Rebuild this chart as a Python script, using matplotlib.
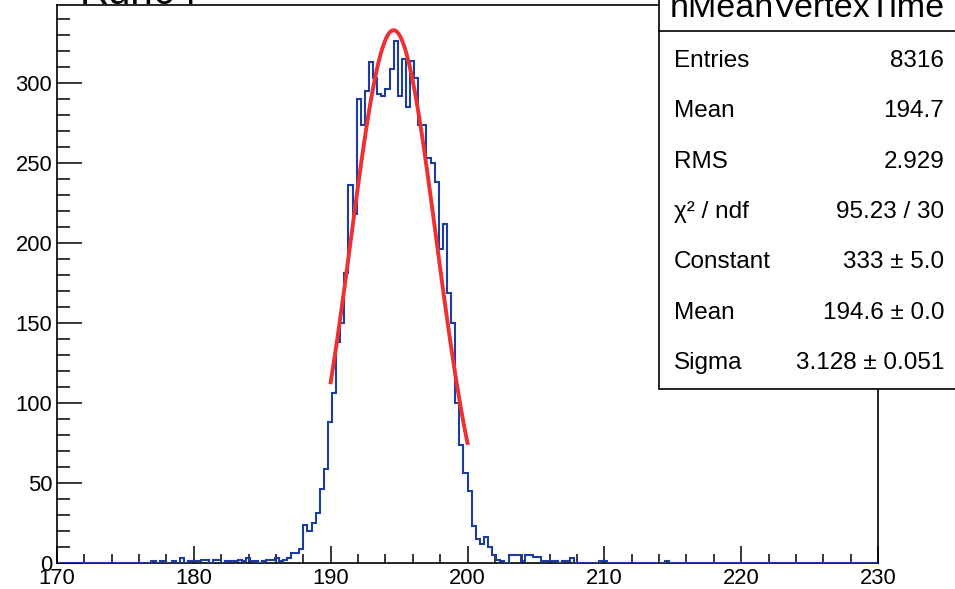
import numpy as np
import matplotlib.pyplot as plt
from matplotlib.patches import Rectangle
from matplotlib.lines import Line2D

plt.rcParams['font.family'] = ['Liberation Sans', 'DejaVu Sans']

# histogram binning: 200 bins over 170-230, filled bins start at bin 23
x_lo, x_hi, n_bins = 170.0, 230.0, 200
first_bin = 23
counts = [1, 0, 1, 0, 0, 1, 0, 3, 0, 1,           # bins 23-32
          1, 1, 2, 2, 0, 2, 2, 0, 1, 1,           # 33-42
          1, 2, 1, 3, 1, 1, 0, 1, 2, 2,           # 43-52
          3, 1, 2, 3, 6, 6, 9, 24, 20, 25,        # 53-62
          31, 46, 59, 88, 106, 138, 150, 181, 236, 218,   # 63-72
          290, 274, 295, 313, 303, 293, 292, 296, 309, 326,  # 73-82
          292, 315, 285, 314, 303, 274, 274, 253, 250, 238,  # 83-92
          196, 212, 169, 150, 100, 74, 56, 45, 23, 15,     # 93-102
          12, 16, 10, 5, 2, 1, 0, 5, 5, 5,        # 103-112
          1, 5, 5, 4, 4, 1, 1, 1, 1, 0,           # 113-122
          1, 1, 3, 0, 0, 0, 0, 0, 0, 1,           # 123-132
          1, 0, 0, 0, 0, 0, 0, 0, 0, 0,           # 133-142
          0, 0, 0, 0, 0, 1]                       # 143-148

# gaussian fit result (from the stats box)
fit_const, fit_mean, fit_sigma = 333.0, 194.6, 3.128
fit_lo, fit_hi = 190.0, 200.0

stats_title = 'hMeanVertexTime'
stats_labels = ['Entries', 'Mean', 'RMS', 'χ² / ndf', 'Constant', 'Mean', 'Sigma']
stats_values = ['8316', '194.7', '2.929', '95.23 / 30', '333 ± 5.0', '194.6 ± 0.0', '3.128 ± 0.051']
plot_title = 'Run64'

W, H = 955, 589
fig = plt.figure(figsize=(W / 100, H / 100), dpi=100)
ax = fig.add_axes([57 / W, 1 - 563 / H, (878 - 57) / W, (563 - 5) / H])

edges = np.linspace(x_lo, x_hi, n_bins + 1)
full = np.zeros(n_bins)
full[first_bin:first_bin + len(counts)] = counts
ax.stairs(full, edges, color='#1d3c9f', lw=1.5, zorder=3)

xf = np.linspace(fit_lo, fit_hi, 100)
yf = fit_const * np.exp(-0.5 * ((xf - fit_mean) / fit_sigma) ** 2)
ax.plot(xf, yf, color='#ee3030', lw=2.8, zorder=4)

ax.set_xlim(x_lo, x_hi)
ax.set_ylim(0, 348.75)
ax.set_xticks(np.arange(170, 231, 10))
ax.set_xticks(np.arange(170, 231, 2), minor=True)
ax.set_yticks(np.arange(0, 301, 50))
ax.set_yticks(np.arange(0, 341, 10), minor=True)
ax.tick_params(which='both', direction='in', top=False, right=False, width=1.1, labelsize=15.8)
ax.tick_params(axis='x', which='major', length=12, pad=3.5)
ax.tick_params(axis='x', which='minor', length=6.5)
ax.tick_params(axis='y', which='major', length=18, pad=3.5)
ax.tick_params(axis='y', which='minor', length=9.5)
for s in ax.spines.values():
    s.set_linewidth(1.2)

# title, partly cut off at the top like the original canvas
fig.text(80 / W, 1 - 4 / H, plot_title, fontsize=29, va='baseline', ha='left')

# stats box
fig.add_artist(Rectangle((659 / W, 1 - 389 / H), (W + 20 - 659) / W, (389 + 20) / H,
                         transform=fig.transFigure, facecolor='white',
                         edgecolor='black', lw=1.2, zorder=10))
fig.add_artist(Line2D([659 / W, 1], [1 - 31 / H, 1 - 31 / H], transform=fig.transFigure,
                      color='black', lw=1.2, zorder=11))
fig.text(807 / W, 1 - 17 / H, stats_title, fontsize=24.5, ha='center', va='baseline', zorder=12)
row_base = [67, 117, 168, 218, 268, 319, 369]
for lab, val, yb in zip(stats_labels, stats_values, row_base):
    fig.text(674 / W, 1 - yb / H, lab, fontsize=17.5, va='baseline', ha='left', zorder=12)
    fig.text(944 / W, 1 - yb / H, val, fontsize=17.5, va='baseline', ha='right', zorder=12)

fig.savefig('out.png', dpi=100)
